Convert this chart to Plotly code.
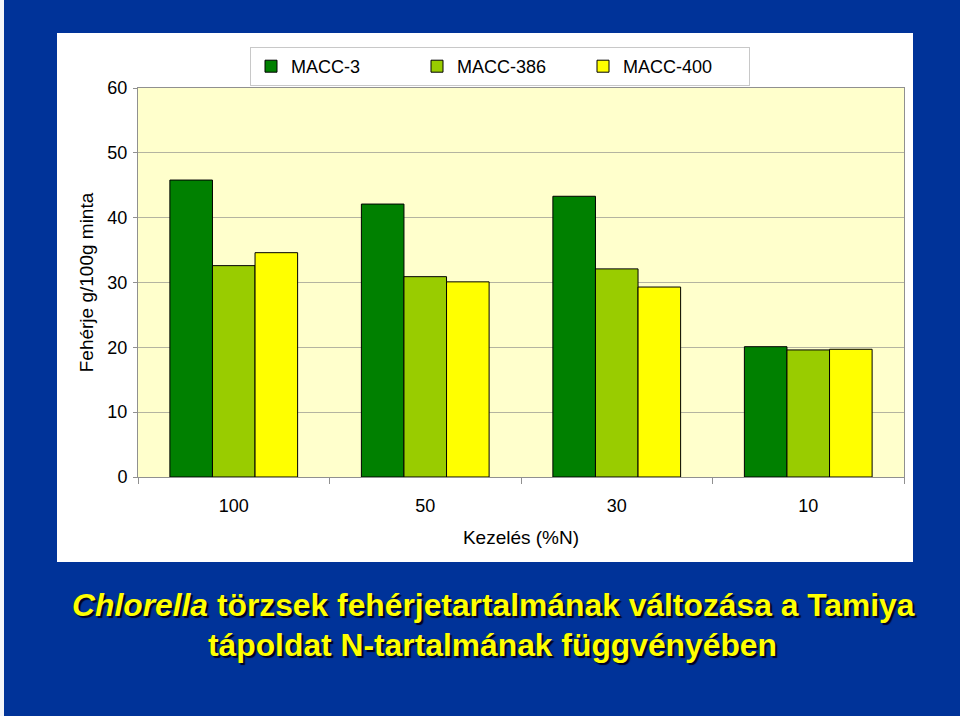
import plotly.graph_objects as go

categories = ["100", "50", "30", "10"]
macc3 = [45.8, 42.1, 43.3, 20.1]
macc386 = [32.6, 30.9, 32.1, 19.6]
macc400 = [34.6, 30.1, 29.3, 19.7]
series_names = ["MACC-3", "MACC-386", "MACC-400"]
series_colors = ["#008000", "#99CC00", "#FFFF00"]

W, H = 960, 716
L, R, T, B = 138, 904, 88, 477


def px_x(p):
    return (p - L) / (R - L)


def px_y(p):
    return (B - p) / (B - T)


fig = go.Figure()
for name, vals, col in zip(series_names, [macc3, macc386, macc400], series_colors):
    fig.add_trace(go.Bar(
        x=categories, y=vals, name=name,
        marker=dict(color=col, line=dict(color="#000000", width=1)),
    ))

font_family = "Liberation Sans, Arial, sans-serif"
title_font = dict(family=font_family, size=31.8, color="#FFFF00",
                  weight="bold", shadow="2px 2px 1px #000022")

fig.update_layout(
    width=W, height=H,
    margin=dict(l=L, r=W - R, t=T, b=H - B, pad=0),
    paper_bgcolor="#003399",
    plot_bgcolor="rgba(0,0,0,0)",
    barmode="group", bargap=0.333, bargroupgap=0,
    font=dict(family=font_family, size=18, color="#000000"),
    showlegend=True,
    legend=dict(
        orientation="h", x=px_x(250), y=px_y(47), xanchor="left", yanchor="top",
        bgcolor="#FFFFFF", bordercolor="#C8C8C8", borderwidth=1,
        font=dict(size=18), entrywidth=121, entrywidthmode="pixels",
        traceorder="normal",
    ),
    xaxis=dict(
        type="category", showgrid=False, showline=True, linecolor="#909090",
        linewidth=1, mirror=True, ticks="outside", tickson="boundaries",
        ticklen=6, tickcolor="#909090", ticklabelstandoff=12,
        title=dict(text="Kezelés (%N)", standoff=16, font=dict(size=19)),
    ),
    yaxis=dict(
        range=[0, 60], dtick=10, showgrid=True, gridcolor="#B4B4A0",
        showline=True, linecolor="#909090", linewidth=1, mirror=True,
        ticks="outside", ticklen=4, tickcolor="#909090", ticklabelstandoff=2,
        zeroline=False,
        title=dict(text="Fehérje g/100g minta", standoff=8, font=dict(size=19)),
    ),
    shapes=[
        dict(type="rect", xref="paper", yref="paper", layer="below",
             x0=px_x(0), x1=px_x(4), y0=px_y(H), y1=px_y(0),
             fillcolor="#F4F6FA", line=dict(width=0)),
        dict(type="rect", xref="paper", yref="paper", layer="below",
             x0=px_x(57), x1=px_x(913), y0=px_y(562), y1=px_y(33),
             fillcolor="#FFFFFF", line=dict(width=0)),
        dict(type="rect", xref="paper", yref="paper", layer="below",
             x0=0, x1=1, y0=0, y1=1,
             fillcolor="#FFFFCC", line=dict(width=0)),
    ],
    annotations=[
        dict(text="<i>Chlorella</i> törzsek fehérjetartalmának változása a Tamiya",
             xref="paper", yref="paper", x=px_x(493), y=px_y(605),
             xanchor="center", yanchor="middle", showarrow=False,
             font=title_font),
        dict(text="tápoldat N-tartalmának függvényében",
             xref="paper", yref="paper", x=px_x(492), y=px_y(645),
             xanchor="center", yanchor="middle", showarrow=False,
             font=title_font),
    ],
)

fig.write_html("out.html")
